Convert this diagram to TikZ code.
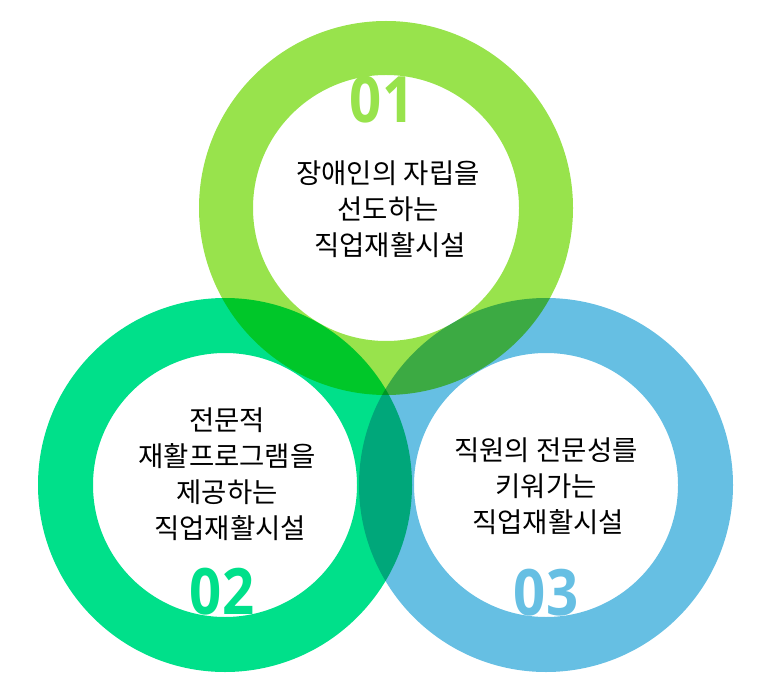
\documentclass[tikz,border=0pt]{standalone}
\usepackage{fontspec}
\usepackage{xcolor}
\usepackage{tikz}
\usetikzlibrary{positioning}
\newfontfamily\kr{Noto Sans CJK KR}
\newfontfamily\numfont[FakeStretch=0.88]{Open Sans Bold}
\definecolor{ringa}{RGB}{152,227,76}
\definecolor{ringb}{RGB}{0,224,138}
\definecolor{ringc}{RGB}{102,191,227}

\begin{document}
\begin{tikzpicture}[
  x=1pt, y=-1pt,
  ring/.style={even odd rule},
  txt/.style={font=\kr\fontsize{27.5}{36}\selectfont, align=center, inner sep=0pt},
  num/.style={font=\numfont\fontsize{64}{64}\selectfont, anchor=base, inner sep=0pt}
]
\useasboundingbox (0,0) rectangle (770,700);

% rings, multiplied where they overlap
\begin{scope}[blend group=multiply]
\fill[ring, ringa] (386,208) circle (187pt) (386,208) circle (133pt);
\fill[ring, ringb] (225,485) circle (187pt) (225,485) circle (132pt);
\fill[ring, ringc] (546,485) circle (187pt) (546,485) circle (132pt);
\end{scope}

\node[num, text=ringa] (n1) at (382,123) {01};
\node[num, text=ringb] (n2) at (222,614) {02};
\node[num, text=ringc] (n3) at (546,615) {03};

\node[txt] (t1) at (388,209) {장애인의 자립을\\선도하는\\\hspace{4pt}직업재활시설};
\node[txt] (t2) at (227,474) {전문적\\재활프로그램을\\제공하는\\\hspace{6pt}직업재활시설};
\node[txt] (t3) at (546,486) {직원의 전문성를\\키워가는\\\hspace{4pt}직업재활시설};
\end{tikzpicture}
\end{document}
